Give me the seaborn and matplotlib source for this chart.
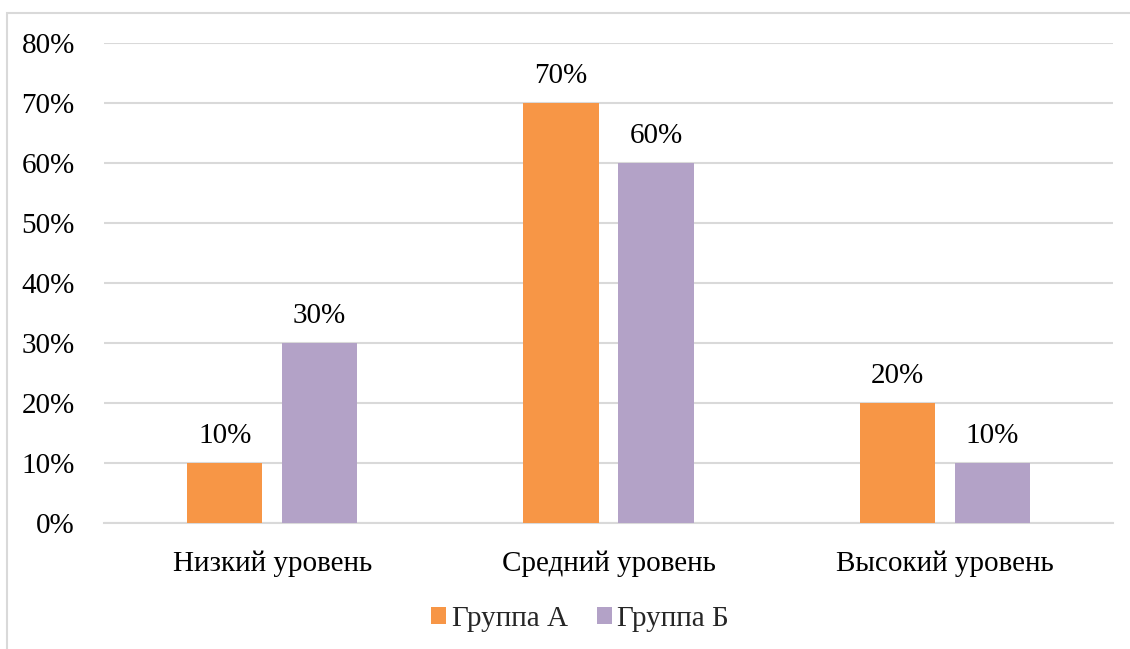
import pandas as pd
import seaborn as sns
import matplotlib.pyplot as plt
from matplotlib.patches import Rectangle
from matplotlib.ticker import PercentFormatter

urovni = ["Низкий уровень", "Средний уровень", "Высокий уровень"]
gruppa_a = [10, 70, 20]
gruppa_b = [30, 60, 10]
gruppy = ["Группа А", "Группа Б"]
cveta = ["#F79646", "#B3A2C7"]

df = pd.DataFrame({
    "Уровень": urovni * 2,
    "Значение": gruppa_a + gruppa_b,
    "Группа": [gruppy[0]] * 3 + [gruppy[1]] * 3,
})

sns.set_theme(style="white")
plt.rcParams["font.family"] = ["Liberation Serif", "DejaVu Serif"]

fig = plt.figure(figsize=(11.3, 6.49), dpi=100)
ax = fig.add_axes([104 / 1130, 1 - 523 / 649, 1009 / 1130, 480 / 649])

# рамка вокруг диаграммы (обрезанная справа и снизу, как в исходнике)
fig.patches.append(Rectangle((7 / 1130, -0.1), 1.2, 1 - 13 / 649 + 0.1,
                             transform=fig.transFigure, fill=False,
                             edgecolor="#D9D9D9", linewidth=1.5, zorder=0))

sns.barplot(data=df, x="Уровень", y="Значение", hue="Группа",
            palette=cveta, width=0.565, gap=0.21, saturation=1,
            linewidth=0, ax=ax, zorder=3)

for cont in ax.containers:
    ax.bar_label(cont, labels=[f"{v:.0f}%" for v in cont.datavalues],
                 padding=10, fontsize=21, color="#000000")

ax.set_ylim(0, 80)
ax.set_yticks(range(0, 81, 10))
ax.yaxis.set_major_formatter(PercentFormatter(decimals=0))
ax.grid(axis="y", color="#D9D9D9", linewidth=1.5, zorder=0)
ax.set_axisbelow(True)
for s in ["top", "right", "left"]:
    ax.spines[s].set_visible(False)
ax.spines["bottom"].set_color("#D9D9D9")
ax.spines["bottom"].set_linewidth(1.5)
ax.tick_params(axis="y", labelsize=21, pad=21, length=0, colors="#000000")
ax.tick_params(axis="x", labelsize=21, pad=20, length=0, colors="#000000")
ax.set_xlabel("")
ax.set_ylabel("")

ax.legend(loc="upper center", bbox_to_anchor=(0.472, -0.118), ncol=2,
          frameon=False, fontsize=21, handlelength=0.5, handleheight=0.5,
          handletextpad=0.2, columnspacing=1.0)

fig.savefig("out.png", dpi=100)
